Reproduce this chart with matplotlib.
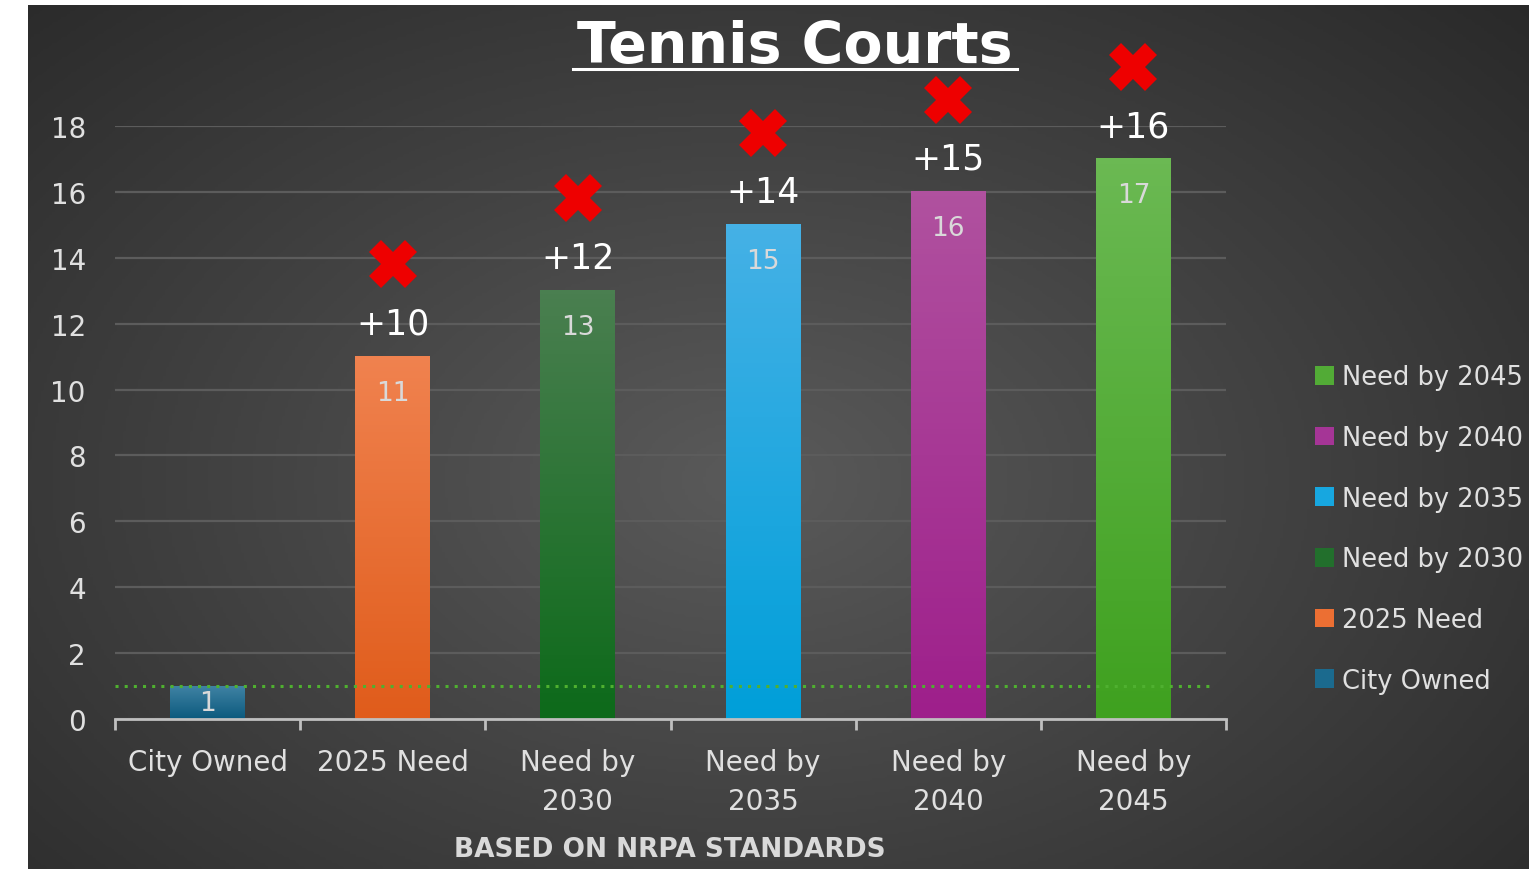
import numpy as np
import matplotlib
matplotlib.use("Agg")
import matplotlib.pyplot as plt
from matplotlib.colors import LinearSegmentedColormap
from matplotlib.patches import Patch

# data
categories = ["City Owned", "2025 Need", "Need by\n2030", "Need by\n2035", "Need by\n2040", "Need by\n2045"]
legend_names = ["City Owned", "2025 Need", "Need by 2030", "Need by 2035", "Need by 2040", "Need by 2045"]
values = [1, 11, 13, 15, 16, 17]
gaps = ["", "+10", "+12", "+14", "+15", "+16"]
owned_line = 1
y_ticks = [0, 2, 4, 6, 8, 10, 12, 14, 16, 18]

# (top colour, bottom colour) for each bar gradient
bar_colors = [("#3f82a3", "#0c5a7e"), ("#f0824f", "#e05c1b"), ("#4a7f50", "#0d6a1a"),
              ("#45b1e6", "#009fd9"), ("#b0519f", "#9e1f8b"), ("#6bb953", "#3fa11f")]
legend_colors = ["#1b6a8e", "#ec6f33", "#226f2c", "#17a7e0", "#a53596", "#52ab36"]

plt.rcParams["font.family"] = ["DejaVu Sans"]

fig = plt.figure(figsize=(15.29, 8.7), dpi=100)
fig.patch.set_facecolor("white")

# dark radial background
bg = fig.add_axes([28 / 1529, 0, 1 - 28 / 1529, 1 - 6 / 870])
bg.set_axis_off()
yy, xx = np.mgrid[0:1:300j, 0:1:500j]
r = np.sqrt(((xx - 0.48) / 0.75) ** 2 + ((yy - 0.55) / 0.85) ** 2)
bg_cmap = LinearSegmentedColormap.from_list("bg", ["#5a5a5a", "#404040", "#272727"])
bg.imshow(np.clip(r, 0, 1), cmap=bg_cmap, aspect="auto", extent=[0, 1, 0, 1], vmin=0, vmax=1)
bg.set_xlim(0, 1)
bg.set_ylim(0, 1)

ax = fig.add_axes([115 / 1529, 1 - 720 / 870, (1226 - 115) / 1529, (720 - 127) / 870])
ax.patch.set_alpha(0)

x = np.arange(len(categories))
bars = ax.bar(x, values, width=0.405, color="none", zorder=3)
for b, (top, bot) in zip(bars, bar_colors):
    cm = LinearSegmentedColormap.from_list("g", [bot, top])
    grad = np.linspace(1, 0, 100).reshape(-1, 1)
    ax.imshow(grad, cmap=cm, aspect="auto", zorder=3, vmin=0, vmax=1,
              extent=[b.get_x(), b.get_x() + b.get_width(), 0, b.get_height()])

for xi, v, g in zip(x, values, gaps):
    ax.text(xi, max(v - 1.1, v / 2), str(v), ha="center", va="center", color="#d9d9d9",
            fontsize=19, zorder=5)
    if g:
        ax.text(xi, v + 1.0, g, ha="center", va="center", color="white", fontsize=25, zorder=5,
                clip_on=False)
        ax.plot(xi, v + 2.8, marker="X", color="#ee0000", markersize=34, markeredgewidth=0,
                clip_on=False, zorder=5)

ax.axhline(owned_line, xmin=0, xmax=0.987, color="#4fb030", linestyle=(0, (1, 2)), linewidth=2.2, zorder=4)

ax.set_xlim(-0.5, len(categories) - 0.5)
ax.set_ylim(0, 18)
ax.set_yticks(y_ticks)
ax.yaxis.grid(True, color="#5c5c5c", linewidth=1.6, zorder=0)
ax.set_axisbelow(True)
ax.tick_params(axis="y", length=0, pad=21, labelsize=20, labelcolor="#e0e0e0")
ax.set_xticks(x)
ax.set_xticklabels(categories, fontsize=20, color="#e0e0e0", linespacing=1.5)
ax.set_xticks(np.arange(-0.5, len(categories)), minor=True)
ax.tick_params(axis="x", which="major", length=0, pad=21)
ax.tick_params(axis="x", which="minor", length=8, width=2, color="#bfbfbf", direction="out")
for s in ["top", "right", "left"]:
    ax.spines[s].set_visible(False)
ax.spines["bottom"].set_color("#bfbfbf")
ax.spines["bottom"].set_linewidth(2)
ax.spines["bottom"].set_zorder(6)

fig.text(795 / 1529, 1 - 47 / 870, "Tennis Courts", ha="center", va="center", color="white",
         fontsize=41, fontweight="bold")
fig.add_artist(plt.Line2D([573 / 1529, 1017 / 1529], [1 - 70 / 870] * 2, color="white", linewidth=2.2))

fig.text(670 / 1529, 1 - 850 / 870, "BASED ON NRPA STANDARDS", ha="center", va="center",
         color="#d9d9d9", fontsize=19, fontweight="bold")

handles = [Patch(facecolor=c, edgecolor="none") for c in legend_colors][::-1]
leg = fig.legend(handles, legend_names[::-1], loc="center left", bbox_to_anchor=(1292 / 1529, 1 - 530 / 870),
                 frameon=False, fontsize=18.5, labelcolor="#e0e0e0", handlelength=0.75, handleheight=0.75,
                 handletextpad=0.3, labelspacing=1.35)

fig.savefig("out.png", dpi=100, facecolor=fig.get_facecolor())
